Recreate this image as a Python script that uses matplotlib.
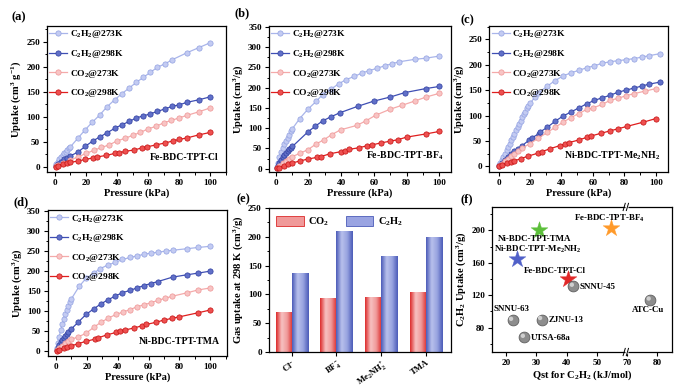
import numpy as np
import matplotlib
matplotlib.use("Agg")
import matplotlib.pyplot as plt
from matplotlib.colors import LinearSegmentedColormap
from matplotlib.patches import Patch
from matplotlib.ticker import MultipleLocator

plt.rcParams['font.family'] = ['Liberation Serif', 'DejaVu Serif']
plt.rcParams['font.weight'] = 'bold'
plt.rcParams['axes.labelweight'] = 'bold'
plt.rcParams['mathtext.fontset'] = 'custom'
plt.rcParams['mathtext.rm'] = 'Liberation Serif:bold'
plt.rcParams['mathtext.it'] = 'Liberation Serif:bold:italic'
plt.rcParams['mathtext.bf'] = 'Liberation Serif:bold'
plt.rcParams['mathtext.default'] = 'rm'

# ---------------- data ----------------
# (a) Fe-BDC-TPT-Cl
a_c2h2_273_p = [0.5, 1, 2, 3, 4, 5, 6, 7, 8, 9, 10, 15, 19.5, 24, 29, 33.5, 38.5, 43, 48, 52.5, 57, 61.5, 66, 71, 75.5, 85, 92.5, 100]
a_c2h2_273_q = [2, 5, 10, 15, 19, 23, 27, 30, 34, 37, 40, 58, 74, 89, 104, 120, 134, 146, 158, 169, 179, 189, 199, 206, 214, 228, 238, 248]
a_c2h2_298_p = [0.5, 2, 4, 6, 8, 10, 15, 19.5, 24.5, 29, 33.5, 38.5, 43, 48, 52.5, 57, 61.5, 66, 71, 75.5, 80, 85, 92.5, 100]
a_c2h2_298_q = [1, 6, 10, 15, 18, 22, 30, 41, 52, 60, 68, 77, 84, 91, 98, 102, 106, 111, 116, 121, 124, 129, 134, 140]
a_co2_273_p = [0.5, 2, 5, 10, 15, 20, 25, 30, 35, 40, 45, 50, 55, 60, 65, 70, 75, 80, 85, 92.5, 100]
a_co2_273_q = [1, 3, 8, 14, 20, 27, 33, 39, 44, 52, 57, 63, 69, 76, 81, 88, 93, 98, 103, 110, 118]
a_co2_298_p = [0.5, 2, 5, 8, 10, 15, 19.5, 24.5, 27, 33, 38.5, 41, 45, 51, 56, 59, 65, 71, 76, 80, 85, 92.5, 100]
a_co2_298_q = [0.5, 2, 5, 8, 9, 12, 15, 18, 20, 23, 27, 28, 31, 34, 38, 40, 44, 48, 52, 55, 58, 64, 69]

# (b) Fe-BDC-TPT-BF4
b_c2h2_273_p = [0.5, 1, 2, 3, 4, 5, 6, 7, 8, 9, 10, 14.5, 19.5, 24.5, 28.5, 33.5, 38.5, 43, 48, 52.5, 57, 62, 66.5, 71, 75.5, 85, 92, 100]
b_c2h2_273_q = [5, 15, 30, 42, 52, 60, 68, 76, 84, 92, 99, 124, 147, 166, 183, 196, 210, 220, 228, 236, 242, 248, 254, 259, 264, 270, 273, 278]
b_c2h2_298_p = [0.5, 1, 2, 3, 4, 5, 6, 7, 8, 9, 10, 19.5, 24, 28.5, 33.5, 39, 50, 60, 70, 79, 92, 100]
b_c2h2_298_q = [3, 8, 15, 22, 28, 33, 38, 43, 48, 52, 55, 91, 105, 118, 128, 138, 154, 167, 177, 188, 198, 203]
b_co2_273_p = [0.5, 2, 4, 6, 8, 10, 14.5, 19.5, 24.5, 29.5, 34, 39.5, 49.5, 55, 61, 70, 77.5, 85, 92, 100]
b_co2_273_q = [2, 8, 15, 20, 25, 30, 38, 47, 61, 72, 84, 96, 107, 118, 132, 147, 157, 167, 177, 186]
b_co2_298_p = [0.5, 2, 5, 7, 9.5, 14.5, 19.5, 25, 27.5, 33, 39.5, 42, 45, 51, 56, 59, 64.5, 70, 75, 80, 92, 100]
b_co2_298_q = [1, 3, 8, 12, 14, 19, 24, 28, 30, 37, 42, 45, 48, 52, 57, 59, 64, 68, 72, 78, 86, 92]

# (c) Ni-BDC-TPT-Me2NH2
c_c2h2_273_p = [0.5, 1, 2, 3, 4, 5, 6, 7, 8, 9, 10, 11, 12, 13, 14, 15, 16, 17, 18, 19, 20, 23, 25, 31, 36, 41, 46, 51, 56, 61, 66, 71, 76, 81, 86, 91, 96, 103]
c_c2h2_273_q = [2, 6, 12, 18, 25, 32, 38, 45, 52, 58, 64, 71, 78, 84, 90, 97, 103, 108, 114, 119, 124, 136, 144, 158, 169, 178, 184, 189, 194, 198, 203, 206, 208, 210, 212, 215, 218, 222]
c_c2h2_298_p = [0.5, 2, 4, 6, 8, 10, 12.5, 15, 19.5, 21, 25.5, 26.5, 31, 36, 41, 46, 51, 56, 61, 66, 71, 76, 81, 86, 91, 96, 103]
c_c2h2_298_q = [1, 6, 12, 18, 24, 30, 35, 41, 52, 56, 64, 68, 77, 89, 99, 107, 115, 123, 130, 135, 140, 146, 150, 154, 158, 162, 166]
c_co2_273_p = [0.5, 2, 4, 6, 8, 10, 12, 15, 20, 25, 31, 36, 41, 46, 51, 56, 60, 66, 71, 76, 81, 86, 93, 100]
c_co2_273_q = [1, 5, 10, 15, 20, 25, 30, 36, 45, 55, 67, 77, 87, 96, 104, 112, 115, 122, 130, 134, 139, 143, 148, 153]
c_co2_298_p = [0.5, 2, 5, 8, 10, 14, 18.5, 25, 27.5, 33, 39, 42, 45, 51, 56, 59, 65, 71, 76, 82, 92, 100]
c_co2_298_q = [0.5, 3, 6, 9, 11, 15, 20, 26, 29, 35, 41, 44, 47, 52, 57, 60, 65, 70, 74, 79, 87, 94]

# (d) Ni-BDC-TPT-TMA
d_c2h2_273_p = [0.5, 1, 2, 3, 4, 5, 6, 7, 8, 9, 10, 15, 19.5, 24.5, 28.5, 33.5, 38.5, 43, 48, 52.5, 57, 61.5, 66, 71, 75.5, 85, 92, 100]
d_c2h2_273_q = [8, 20, 35, 52, 68, 81, 93, 104, 114, 122, 131, 162, 182, 195, 206, 215, 222, 229, 234, 238, 242, 245, 247, 250, 252, 256, 259, 262]
d_c2h2_298_p = [0.5, 1, 2, 3, 4, 5, 6, 7, 8, 10, 14.5, 19.5, 24.5, 29, 33.5, 38.5, 43, 48, 52.5, 57, 61.5, 66, 75.5, 85, 92, 100]
d_c2h2_298_q = [3, 8, 15, 22, 28, 33, 38, 43, 48, 56, 73, 92, 106, 118, 128, 138, 146, 152, 158, 164, 169, 174, 185, 191, 195, 200]
d_co2_273_p = [0.5, 2, 4, 6, 8, 10, 14.5, 19.5, 24.5, 29, 34, 39, 43.5, 48, 52.5, 57, 61.5, 66, 70.5, 75, 85, 92, 100]
d_co2_273_q = [2, 7, 14, 20, 25, 30, 36, 45, 60, 72, 83, 92, 98, 104, 111, 116, 121, 127, 132, 137, 146, 153, 158]
d_co2_298_p = [0.5, 2, 5, 7, 9.5, 14.5, 19.5, 25, 27, 33, 39, 41.5, 44.5, 50.5, 56, 58.5, 64.5, 70, 75, 80, 92, 100]
d_co2_298_q = [1, 4, 8, 11, 13, 19, 25, 30, 33, 41, 47, 50, 53, 58, 64, 67, 72, 78, 82, 86, 96, 103]

# (e) uptake at 298 K, 100 kPa
anions = [r'Cl$^{-}$', r'BF$_4^{-}$', r'Me$_2$NH$_2^{+}$', 'TMA']
co2_uptake = [70, 93, 95, 104]
c2h2_uptake = [137, 210, 166, 200]

# (f) comparison
mof_names = ['Fe-BDC-TPT-BF$_4$', 'Ni-BDC-TPT-TMA', 'Ni-BDC-TPT-Me$_2$NH$_2$', 'Fe-BDC-TPT-Cl',
             'SNNU-45', 'ATC-Cu', 'SNNU-63', 'ZJNU-13', 'UTSA-68a']
mof_qst = [54.6, 30.8, 23.7, 40.3, 42.2, 77.6, 22.1, 31.7, 26.0]
mof_c2h2 = [203, 200, 165, 140, 131, 114, 89, 90, 68]
mof_colors = ['#ff9a2a', '#5cbf3a', '#5060c8', '#e02828', '#8a8a8a', '#8a8a8a', '#8a8a8a', '#8a8a8a', '#8a8a8a']
mof_markers = ['*', '*', '*', '*', 'o', 'o', 'o', 'o', 'o']

# ---------------- style ----------------
series_style = {
    'c2h2_273': dict(label=r'C$_2$H$_2$@273K', color='#a9b5ea', face='#c3cbf2', edge='#93a2e2'),
    'c2h2_298': dict(label=r'C$_2$H$_2$@298K', color='#3f4fb4', face='#6170c8', edge='#2f3ea0'),
    'co2_273':  dict(label=r'CO$_2$@273K',     color='#f4aaaa', face='#f8c4c4', edge='#ee9595'),
    'co2_298':  dict(label=r'CO$_2$@298K',     color='#e01e1e', face='#ee5050', edge='#c41010'),
}

TICK = 6.6
LAB = 7.6

fig = plt.figure(figsize=(6.91, 3.90), dpi=100)


def style_axes(ax):
    for s in ax.spines.values():
        s.set_linewidth(0.9)
    ax.tick_params(which='both', direction='out', top=False, right=False, labelsize=TICK, pad=2)
    ax.tick_params(which='major', length=3, width=0.8)
    ax.tick_params(which='minor', length=1.8, width=0.7)


def iso_panel(rect, data, ylim, xlim, ylabel, name, letter, lx, ly):
    ax = fig.add_axes(rect)
    for key in ['c2h2_273', 'c2h2_298', 'co2_273', 'co2_298']:
        p, q = data[key]
        st = series_style[key]
        ax.plot(p, q, '-o', color=st['color'], lw=0.9, ms=3.8, mfc=st['face'], mec=st['edge'],
                mew=0.5, label=st['label'])
    ax.set_xlim(*xlim)
    ax.set_ylim(*ylim)
    ax.xaxis.set_major_locator(MultipleLocator(20))
    ax.xaxis.set_minor_locator(MultipleLocator(10))
    ax.yaxis.set_major_locator(MultipleLocator(50))
    ax.yaxis.set_minor_locator(MultipleLocator(25))
    style_axes(ax)
    ax.set_xlabel('Pressure (kPa)', fontsize=LAB, labelpad=1)
    ax.set_ylabel(ylabel, fontsize=LAB, labelpad=2)
    ax.legend(loc='upper left', frameon=False, fontsize=6.8, handlelength=1.9, handletextpad=0.3,
              labelspacing=0.8, borderaxespad=0.1, borderpad=0.15)
    ax.text(0.96, 0.07, name, transform=ax.transAxes, ha='right', va='bottom', fontsize=7.0)
    fig.text(lx, ly, letter, fontsize=9, fontweight='bold', ha='left', va='center')
    return ax


iso_panel([0.068, 0.559, 0.259, 0.374],
          {'c2h2_273': (a_c2h2_273_p, a_c2h2_273_q), 'c2h2_298': (a_c2h2_298_p, a_c2h2_298_q),
           'co2_273': (a_co2_273_p, a_co2_273_q), 'co2_298': (a_co2_298_p, a_co2_298_q)},
          (-10, 281), (-5, 110), r'Uptake (cm$^3$ g$^{-1}$)', 'Fe-BDC-TPT-Cl', '(a)', 0.016, 0.955)

iso_panel([0.389, 0.559, 0.263, 0.374],
          {'c2h2_273': (b_c2h2_273_p, b_c2h2_273_q), 'c2h2_298': (b_c2h2_298_p, b_c2h2_298_q),
           'co2_273': (b_co2_273_p, b_co2_273_q), 'co2_298': (b_co2_298_p, b_co2_298_q)},
          (-8, 352), (-4.5, 107), r'Uptake (cm$^3$/g)', 'Fe-BDC-TPT-BF$_4$', '(b)', 0.340, 0.967)

iso_panel([0.708, 0.559, 0.258, 0.374],
          {'c2h2_273': (c_c2h2_273_p, c_c2h2_273_q), 'c2h2_298': (c_c2h2_298_p, c_c2h2_298_q),
           'co2_273': (c_co2_273_p, c_co2_273_q), 'co2_298': (c_co2_298_p, c_co2_298_q)},
          (-11, 276), (-6, 107.5), r'Uptake (cm$^3$/g)', 'Ni-BDC-TPT-Me$_2$NH$_2$', '(c)', 0.666, 0.948)

iso_panel([0.069, 0.087, 0.260, 0.374],
          {'c2h2_273': (d_c2h2_273_p, d_c2h2_273_q), 'c2h2_298': (d_c2h2_298_p, d_c2h2_298_q),
           'co2_273': (d_co2_273_p, d_co2_273_q), 'co2_298': (d_co2_298_p, d_co2_298_q)},
          (-12, 352), (-5.4, 111), r'Uptake (cm$^3$/g)', 'Ni-BDC-TPT-TMA', '(d)', 0.020, 0.482)

# ---------------- (e) bars ----------------
ax = fig.add_axes([0.389, 0.0974, 0.263, 0.369])
x = np.arange(len(anions))
w = 0.36
red_cm = LinearSegmentedColormap.from_list('r', ['#dc2a2a', '#f7c2c2', '#f09a9a', '#dc2a2a'])
blue_cm = LinearSegmentedColormap.from_list('b', ['#4b5bb8', '#b9c1ec', '#98a3e0', '#4b5bb8'])
bars_r = ax.bar(x - w / 2, co2_uptake, width=w, color='#ee8080', edgecolor='none', label='CO$_2$')
bars_b = ax.bar(x + w / 2, c2h2_uptake, width=w, color='#8a96dc', edgecolor='none', label='C$_2$H$_2$')
grad = np.linspace(0, 1, 64).reshape(1, -1)
for bars, cm in [(bars_r, red_cm), (bars_b, blue_cm)]:
    for b in bars:
        x0, h = b.get_x(), b.get_height()
        im = ax.imshow(grad, cmap=cm, aspect='auto', extent=(x0, x0 + b.get_width(), 0, h),
                       interpolation='bicubic', zorder=2)
        im.set_clip_path(b)
ax.set_xlim(-0.51, 3.55)
ax.set_ylim(0, 250)
ax.set_xticks(x)
ax.set_xticklabels(anions, rotation=35, ha='right', rotation_mode='anchor')
ax.yaxis.set_major_locator(MultipleLocator(50))
ax.yaxis.set_minor_locator(MultipleLocator(25))
style_axes(ax)
ax.tick_params(axis='x', labelsize=6.2, pad=1.5)
ax.set_ylabel('Gas uptake at 298 K (cm$^3$/g)', fontsize=LAB, labelpad=2)
h_r = Patch(facecolor='#f09a9a', edgecolor='#dc2a2a', lw=0.6)
h_b = Patch(facecolor='#9aa4e2', edgecolor='#4b5bb8', lw=0.6)
ax.legend([h_r, h_b], ['CO$_2$', 'C$_2$H$_2$'], loc='upper left', ncol=2, frameon=False, fontsize=7.6,
          handlelength=2.6, handleheight=1.2, columnspacing=1.6, handletextpad=0.4, borderaxespad=0.3)
fig.text(0.342, 0.490, '(e)', fontsize=9, fontweight='bold', ha='left', va='center')

# ---------------- (f) scatter with broken axis ----------------
BR_LO, BR_HI = 59.6, 69.6


def fwd(v):
    v = np.asarray(v, dtype=float)
    return np.where(v <= BR_LO, v, np.where(v >= BR_HI, v - (BR_HI - BR_LO), BR_LO))


def inv(v):
    v = np.asarray(v, dtype=float)
    return np.where(v <= BR_LO, v, v + (BR_HI - BR_LO))


ax = fig.add_axes([0.712, 0.0974, 0.260, 0.372])
ax.set_xscale('function', functions=(fwd, inv))
for qx, qy, c, m in zip(mof_qst, mof_c2h2, mof_colors, mof_markers):
    if m == '*':
        ax.scatter(qx, qy, marker='*', s=160, color=c, edgecolors=c, linewidths=0.3, zorder=3)
    else:
        ax.scatter(qx, qy, marker='o', s=60, color='#8d8d8d', edgecolors='#5e5e5e', linewidths=0.6, zorder=3)
        ax.scatter(qx - 0.5, qy + 2, marker='o', s=10, color='#cfcfcf', edgecolors='none', zorder=4)
ax.set_xlim(15.3, 84.7)
ax.set_ylim(50, 229)
ax.set_xticks([20, 30, 40, 50, 70, 80])
ax.set_xticklabels(['20', '30', '40', '50', '70', '80'])
ax.set_yticks([80, 120, 160, 200])
ax.yaxis.set_minor_locator(MultipleLocator(20))
style_axes(ax)
ax.set_xlabel('Qst for C$_2$H$_2$ (kJ/mol)', fontsize=LAB, labelpad=1)
ax.set_ylabel('C$_2$H$_2$ Uptake (cm$^3$/g)', fontsize=LAB, labelpad=2)

label_pos = [(54.2, 215, 'center'), (29.5, 190, 'center'), (30.3, 177, 'center'), (36.0, 150, 'center'),
             (44.1, 130, 'left'), (77.0, 101.5, 'center'), (21.9, 103, 'center'), (34.0, 90, 'left'),
             (28.2, 67, 'left')]
for name, (tx, ty, ha) in zip(mof_names, label_pos):
    ax.text(tx, ty, name, fontsize=6.4, ha=ha, va='center')

# break marks
fb = (fwd(BR_LO) - fwd(15.3)) / (fwd(84.7) - fwd(15.3))
for yb in (0, 1):
    ax.plot([fb - 0.006, fb + 0.012], [yb, yb], color='white', lw=2.5, transform=ax.transAxes,
            clip_on=False, zorder=5, solid_capstyle='butt')
    for dx in (-0.01, 0.008):
        ax.plot([fb + dx - 0.006, fb + dx + 0.006], [yb - 0.025, yb + 0.025], color='black', lw=0.7,
                transform=ax.transAxes, clip_on=False, zorder=6)
fig.text(0.667, 0.488, '(f)', fontsize=9, fontweight='bold', ha='left', va='center')

fig.savefig('out.png', dpi=100)
